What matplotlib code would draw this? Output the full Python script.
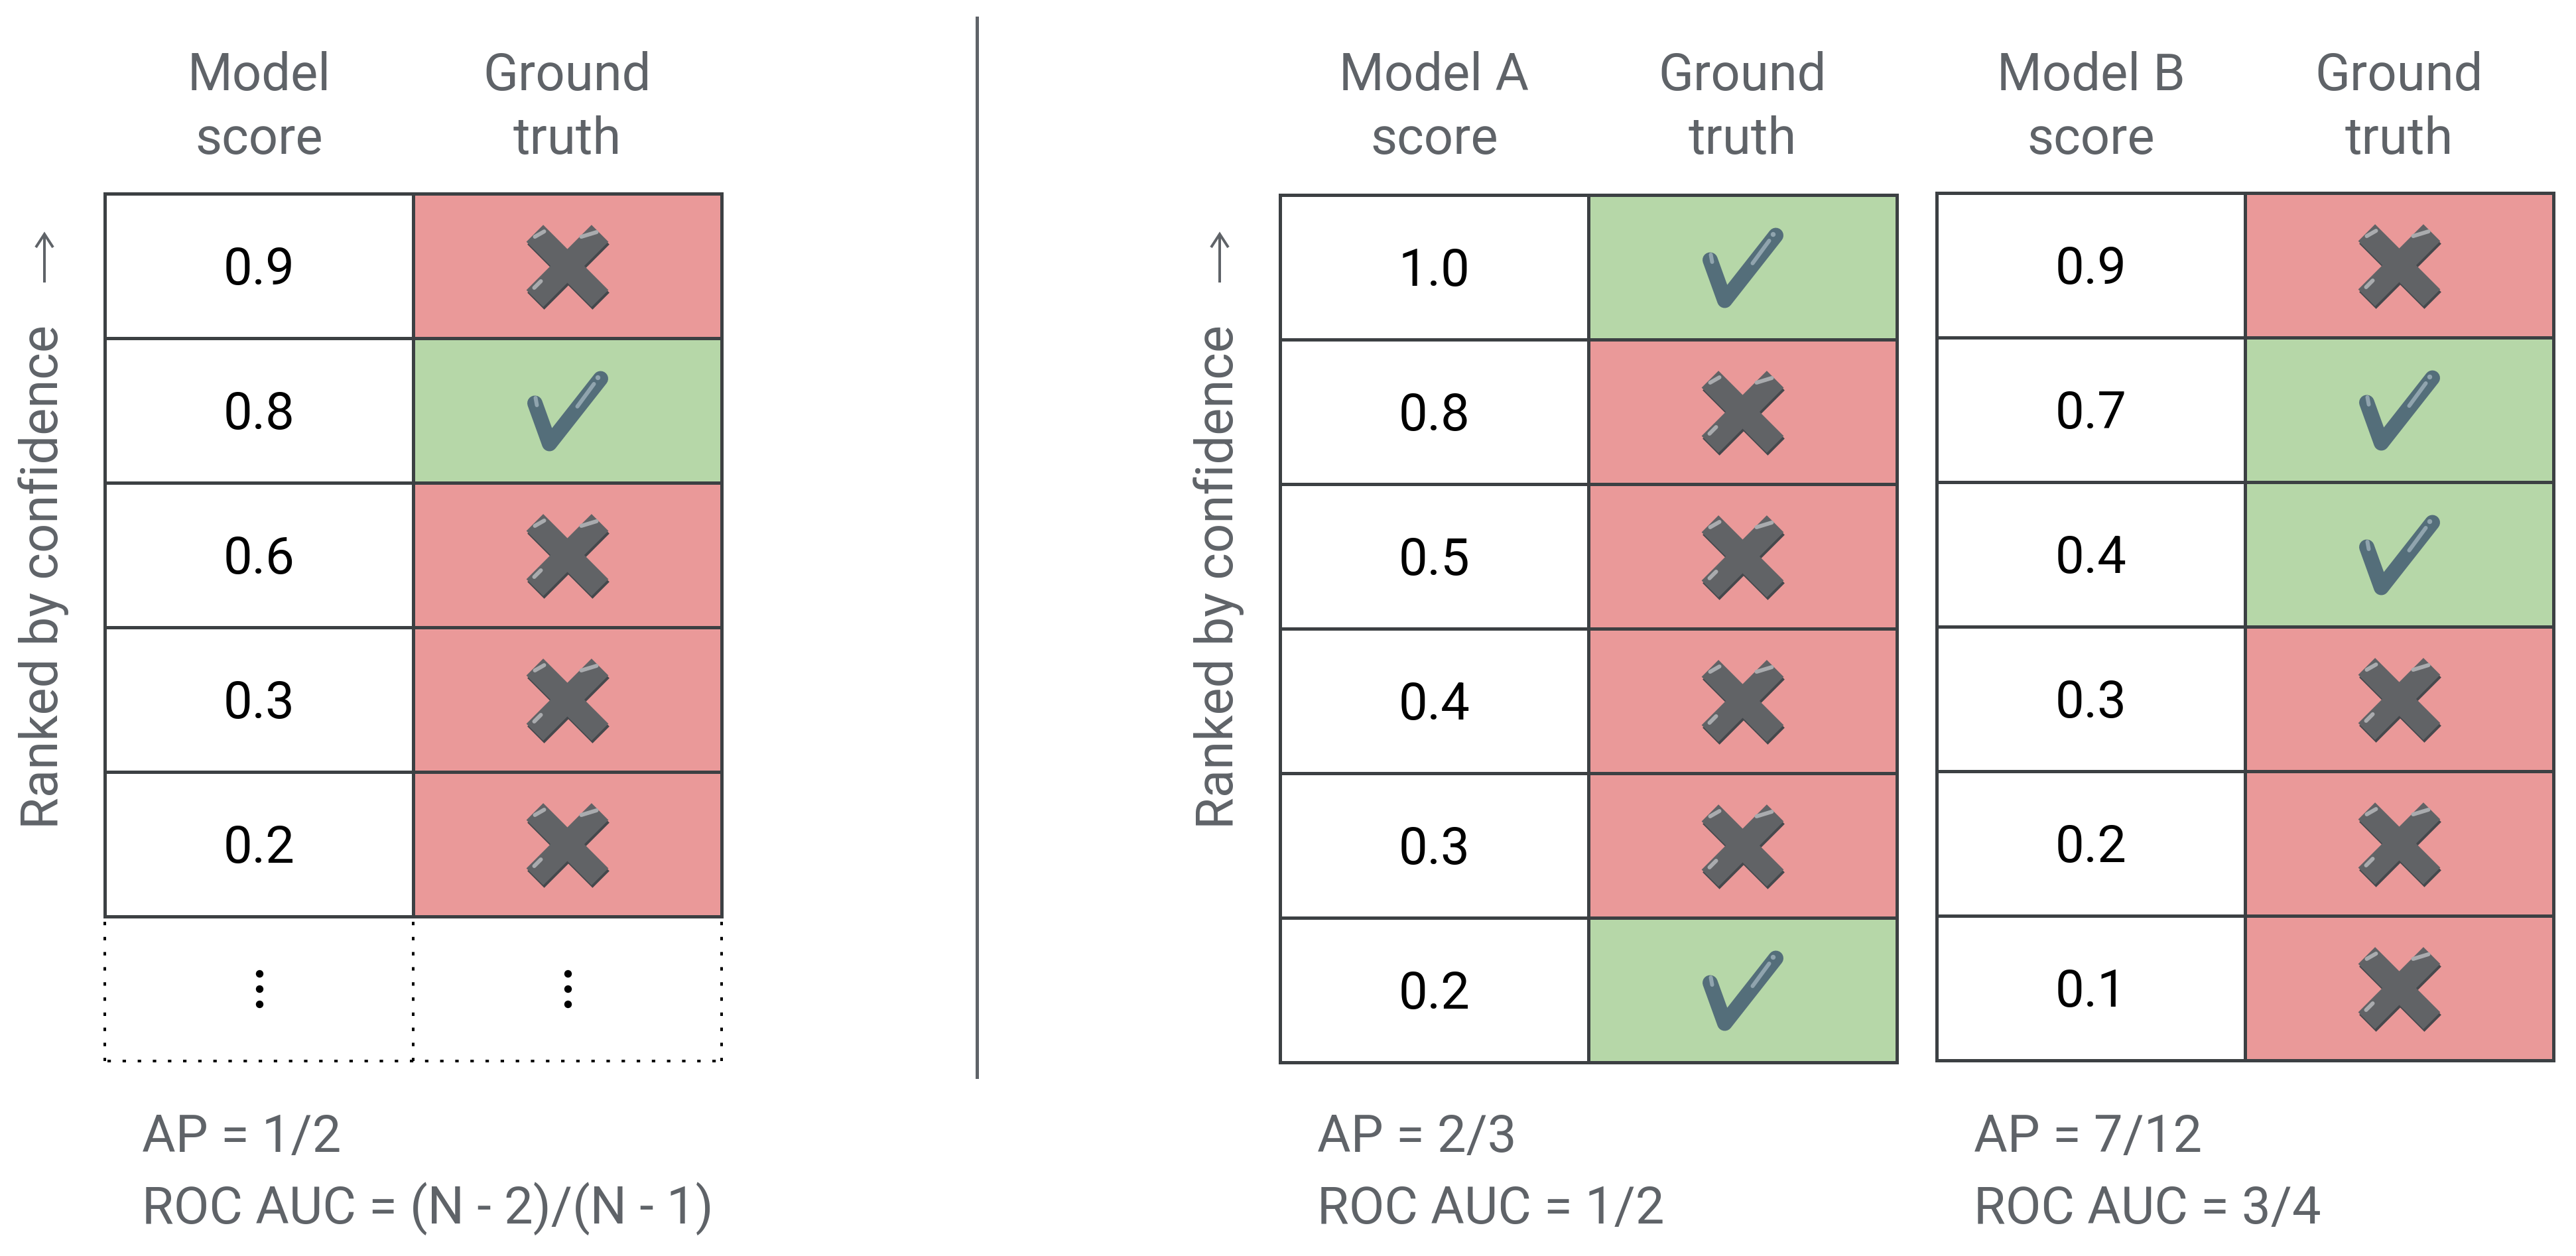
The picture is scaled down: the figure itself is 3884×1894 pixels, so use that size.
import numpy as np
import matplotlib
matplotlib.use("Agg")
import matplotlib.pyplot as plt
from matplotlib.patches import Rectangle, Polygon

plt.rcParams['font.family'] = ['Roboto', 'DejaVu Sans']

# ---- data ----
left_scores = [0.9, 0.8, 0.6, 0.3, 0.2]
left_truth = [0, 1, 0, 0, 0]
a_scores = [1.0, 0.8, 0.5, 0.4, 0.3, 0.2]
a_truth = [1, 0, 0, 0, 0, 1]
b_scores = [0.9, 0.7, 0.4, 0.3, 0.2, 0.1]
b_truth = [0, 1, 1, 0, 0, 0]

left_header = ["Model\nscore", "Ground\ntruth"]
a_header = ["Model A\nscore", "Ground\ntruth"]
b_header = ["Model B\nscore", "Ground\ntruth"]

left_metrics = ["AP = 1/2", "ROC AUC = (N - 2)/(N - 1)"]
a_metrics = ["AP = 2/3", "ROC AUC = 1/2"]
b_metrics = ["AP = 7/12", "ROC AUC = 3/4"]

rank_label = "Ranked by confidence"

# ---- style ----
W, H = 3884, 1894
GRAY = '#5f6368'
EDGE = '#3c4043'
RED = '#ea9999'
GREEN = '#b6d7a8'
FS = 56
COL_W = 465
ROW_H = 218
PX = 0.72  # points per pixel at dpi 100

fig = plt.figure(figsize=(W / 100, H / 100), dpi=100)
ax = fig.add_axes([0, 0, 1, 1])
ax.set_xlim(0, W)
ax.set_ylim(H, 0)
ax.axis('off')


def draw_cross(cx, cy):
    L, w = 139, 36
    arms = []
    for sx, sy in [(1, 1), (1, -1)]:
        dx, dy = sx / np.sqrt(2), sy / np.sqrt(2)
        nx, ny = -dy, dx
        pts = [(cx + s * dx * L / 2 + t * nx * w / 2, cy + s * dy * L / 2 + t * ny * w / 2)
               for s, t in [(-1, -1), (1, -1), (1, 1), (-1, 1)]]
        arms.append(np.array(pts))
    for p in arms:
        ax.add_patch(Polygon(p + [1.5, 4], closed=True, fc='#45484c', ec='none', zorder=4))
    for p in arms:
        ax.add_patch(Polygon(p, closed=True, fc='#616366', ec='none', zorder=5))
    hl = dict(color='#a9abae', lw=6 * PX, solid_capstyle='round', zorder=6)
    ax.plot([cx - 49, cx - 35], [cy - 44, cy - 52], **hl)
    ax.plot([cx + 21, cx + 44], [cy - 44, cy - 51], **hl)
    ax.plot([cx - 50, cx - 40], [cy + 33, cy + 23], **hl)


def draw_check(cx, cy):
    ax.plot([cx - 49, cx - 27, cx + 50], [cy - 11, cy + 50, cy - 48],
            color='#546e7a', lw=23 * PX, solid_capstyle='round',
            solid_joinstyle='round', zorder=5)
    hl = dict(color='#90a4ae', lw=6 * PX, solid_capstyle='round', zorder=6)
    ax.plot([cx + 15, cx + 40], [cy - 6, cy - 40], **hl)
    ax.plot([cx + 45], [cy - 50], 'o', color='#90a4ae', ms=6 * PX, zorder=6)
    ax.plot([cx - 48, cx - 46], [cy - 19, cy - 8], **hl)


def draw_rank_label(x0):
    ax.text(x0 - 71, 1250, rank_label, fontsize=FS, color=GRAY, rotation=90,
            rotation_mode='anchor', ha='left', va='baseline')
    # thin upward arrow after the label
    xa = x0 - 91
    ax.plot([xa, xa], [426, 354], color=GRAY, lw=4 * PX, solid_capstyle='butt')
    ax.plot([xa - 13, xa, xa + 13], [373, 353, 373], color=GRAY, lw=4 * PX,
            solid_joinstyle='miter', solid_capstyle='butt')


def draw_table(x0, y0, scores, truth, header, metrics, dotted=False, label=True):
    n = len(scores)
    for i, (s, t) in enumerate(zip(scores, truth)):
        y = y0 + i * ROW_H
        ax.add_patch(Rectangle((x0, y), COL_W, ROW_H, fc='white', ec=EDGE, lw=5 * PX, zorder=2))
        ax.add_patch(Rectangle((x0 + COL_W, y), COL_W, ROW_H, fc=GREEN if t else RED,
                               ec=EDGE, lw=5 * PX, zorder=2))
        cy = y + ROW_H / 2
        ax.text(x0 + COL_W / 2, cy + 28, f"{s:.1f}", fontsize=FS, color='black',
                ha='center', va='baseline', zorder=5)
        if t:
            draw_check(x0 + 1.5 * COL_W, cy)
        else:
            draw_cross(x0 + 1.5 * COL_W, cy)
    yb = y0 + n * ROW_H
    if dotted:
        dot = dict(color='black', lw=4 * PX, linestyle=(0, (1.3, 4.4)), zorder=2)
        for k in range(3):
            ax.plot([x0 + k * COL_W] * 2, [yb + 8, yb + ROW_H], **dot)
        ax.plot([x0 + 4, x0 + 2 * COL_W], [yb + ROW_H] * 2, **dot)
        for k in range(2):
            ax.plot([x0 + (k + 0.5) * COL_W] * 3,
                    [yb + ROW_H / 2 - 23, yb + ROW_H / 2, yb + ROW_H / 2 + 23],
                    'o', color='black', ms=10 * PX, zorder=3)
    # headers
    for k, h in enumerate(header):
        l1, l2 = h.split("\n")
        ax.text(x0 + (k + 0.5) * COL_W, 136, l1, fontsize=FS, color=GRAY, ha='center', va='baseline')
        ax.text(x0 + (k + 0.5) * COL_W, 232, l2, fontsize=FS, color=GRAY, ha='center', va='baseline')
    if label:
        draw_rank_label(x0)
    ax.text(x0 + 56, 1737, metrics[0], fontsize=FS, color=GRAY, ha='left', va='baseline')
    ax.text(x0 + 56, 1845, metrics[1], fontsize=FS, color=GRAY, ha='left', va='baseline')


draw_table(158, 292, left_scores, left_truth, left_header, left_metrics, dotted=True)
draw_table(1930, 294, a_scores, a_truth, a_header, a_metrics)
draw_table(2920, 291, b_scores, b_truth, b_header, b_metrics, label=False)

# divider between the two panels
ax.plot([1473, 1473], [27, 1624], color=GRAY, lw=5 * PX)

fig.savefig("out.png", dpi=100, facecolor='white')
